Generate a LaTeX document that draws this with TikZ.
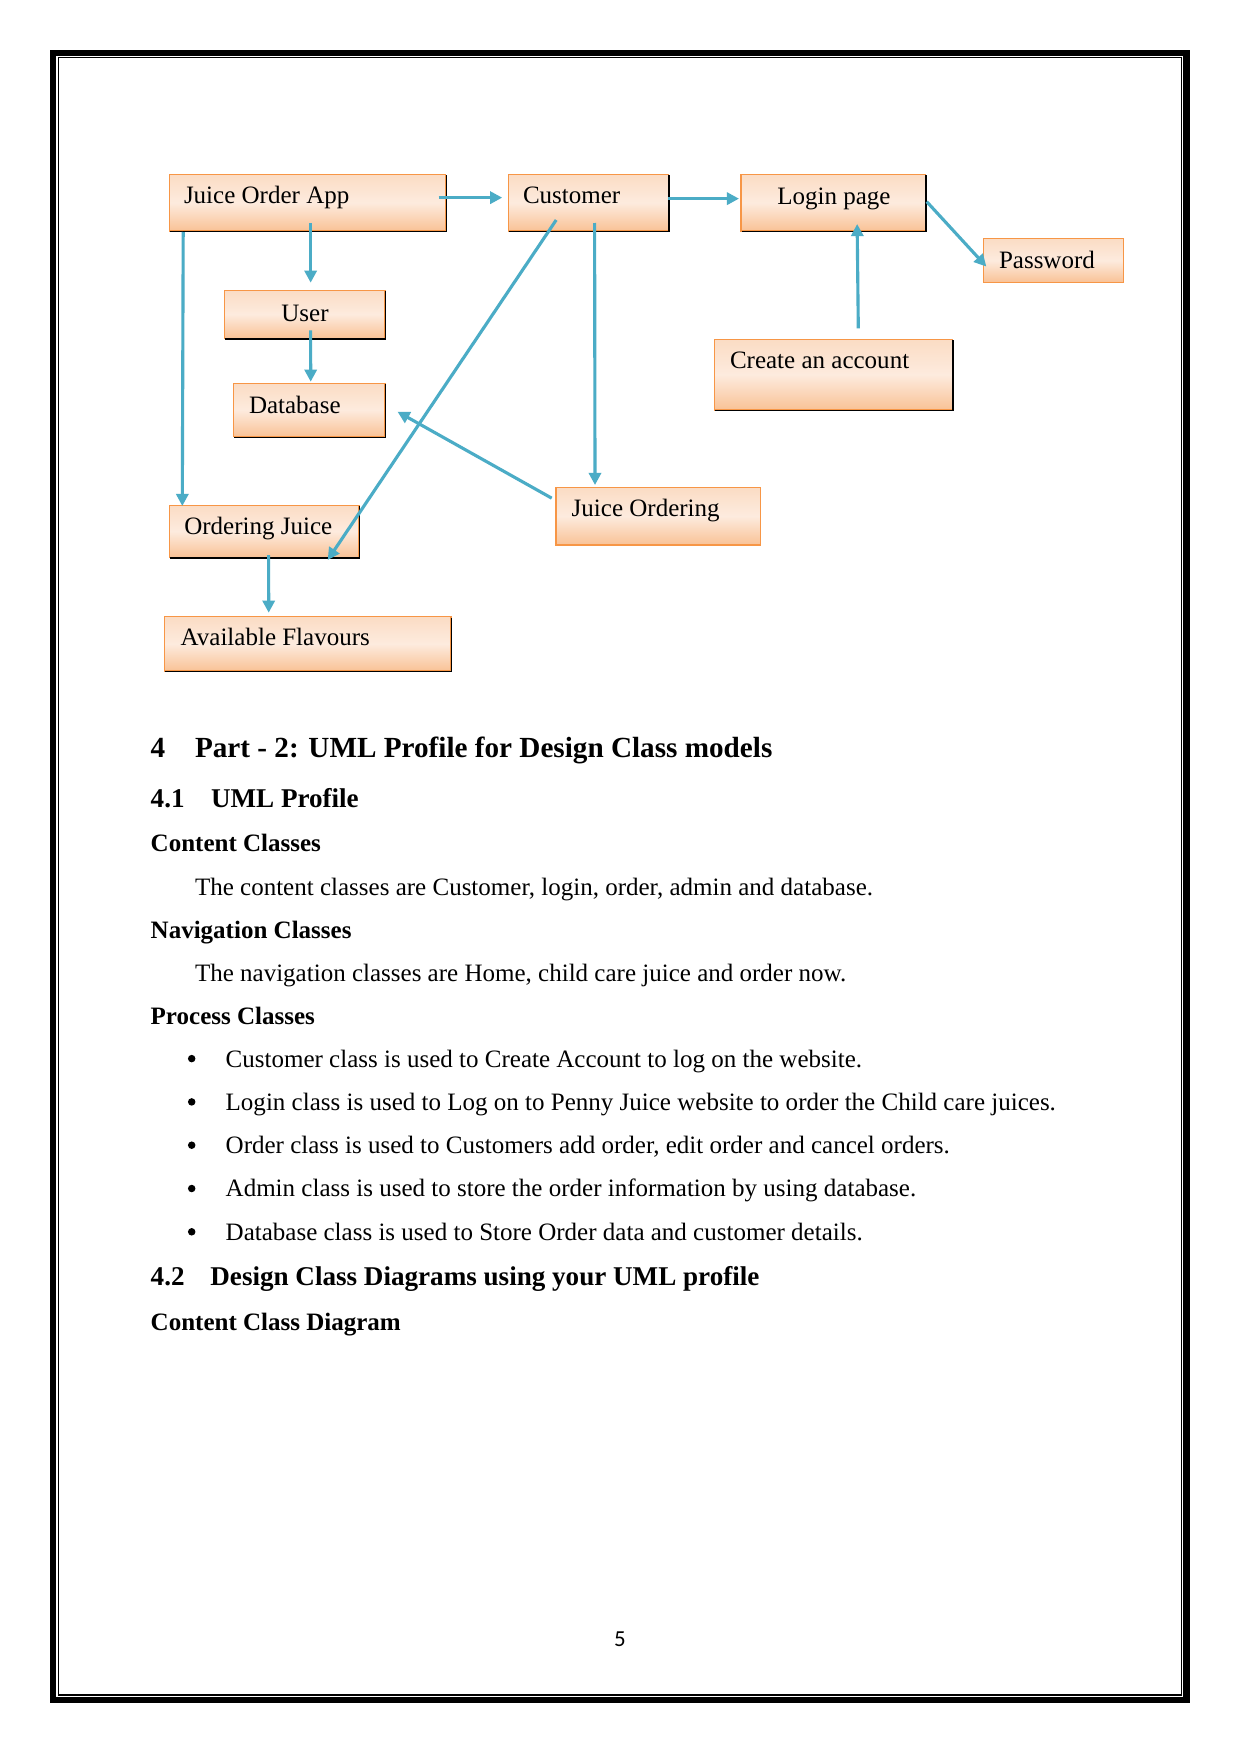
\documentclass[tikz,border=0pt]{standalone}
\usepackage{fontspec}
\setmainfont{Liberation Serif}
\newfontfamily\pagenumfont{Carlito}
\usetikzlibrary{arrows.meta}
\definecolor{arrowblue}{RGB}{75,172,198}
\definecolor{boxedge}{RGB}{247,150,70}
\definecolor{boxtop}{RGB}{251,220,196}
\definecolor{boxmid}{RGB}{253,235,222}
\definecolor{boxbot}{RGB}{249,194,150}
\def\u{0.4797pt}
\newcommand\ubox[5]{%
  \node[box, minimum width={(#4-#2)*\u}, minimum height={(#5-#3)*\u}] (#1) at ({(#2+#4)/2},{(#3+#5)/2}) {};}
\newcommand\ushadow[1]{%
  \draw[black, line width=0.6pt] ([shift={(0.8,0.8)}]#1.south west) -- ([shift={(0.8,0.8)}]#1.south east) -- ([shift={(0.8,0.8)}]#1.north east);}
\begin{document}
\begin{tikzpicture}[x=0.4797pt, y=-0.4797pt,
  box/.style={draw=boxedge, line width=0.6pt, top color=boxtop, bottom color=boxbot, middle color=boxmid, inner sep=0pt, outer sep=0pt},
  conn/.style={draw=arrowblue, line width=1.5pt, -{Triangle[length=5.8pt,width=5.8pt]}},
  lbl/.style={anchor=base west, inner sep=0pt, outer sep=0pt, font=\fontsize{12}{14}\selectfont},
  h1/.style={lbl, font=\fontsize{14}{17}\selectfont\bfseries},
  h2/.style={lbl, font=\fontsize{13}{16}\selectfont\bfseries},
  h3/.style={lbl, font=\fontsize{12}{14}\selectfont\bfseries},
  blt/.style={circle, fill=black, inner sep=0pt, minimum size=3.6pt}]
% page
\fill[white] (0,0) rectangle (1241,1754);
\useasboundingbox (0,0) rectangle (1241,1754);
\draw[black, line width=3.1pt] (53,53) rectangle (1186.7,1700);
\draw[black, line width=0.6pt] (58.5,57.8) rectangle (1181.7,1695);

% boxes
\ubox{joa}{169.6}{174.3}{445.7}{231}
\ubox{cust}{508.2}{174.3}{668.2}{231}
\ubox{login}{741}{174.3}{925.3}{231}
\ubox{pw}{983.3}{238.7}{1123.3}{282.3}
\ubox{user}{224.3}{290.3}{385}{338.3}
\ubox{db}{233.2}{383.3}{385}{436.7}
\ubox{create}{714.3}{339.3}{952.3}{410}
\ubox{jo}{556}{487.3}{760.7}{545}
\ubox{oj}{169.3}{505.3}{359}{557.3}
\ubox{af}{164.3}{616.7}{451}{671}
\ushadow{joa}\ushadow{cust}\ushadow{login}\ushadow{user}\ushadow{db}
\ushadow{create}\ushadow{oj}\ushadow{af}

% box texts
\node[lbl] (joa-t) at (184,203.3) {Juice Order App};
\node[lbl] (cust-t) at (523,203.3) {Customer};
\node[lbl] (login-t) at (777.3,204.3) {Login page};
\node[lbl] (pw-t) at (999,268.3) {Password};
\node[lbl] (user-t) at (281.4,321) {User};
\node[lbl] (db-t) at (249,413.3) {Database};
\node[lbl] (create-t) at (730,368.3) {Create an account};
\node[lbl] (jo-t) at (571.7,516.7) {Juice Ordering};
\node[lbl] (oj-t) at (184.3,534.3) {Ordering Juice};
\node[lbl] (af-t) at (180.7,645) {Available Flavours};

% connectors
\draw[conn] ([shift={(-7,-5)}]joa.east) -- ([shift={(-6,-5)}]cust.west);
\draw[conn] ([shift={(0,-4)}]cust.east) -- ([shift={(-2,-4)}]login.west);
\draw[conn] ([shift={(1.4,-1)}]login.east) -- ([shift={(3,6)}]pw.west);
\draw[conn] ([shift={(25,-11)}]create.north) -- ([shift={(24,-7)}]login.south);
\draw[conn] ([shift={(3,-8)}]joa.south) -- ([shift={(6,-7.6)}]user.north);
\draw[conn] ([shift={(6,-8)}]user.south) -- ([shift={(1.6,-1.6)}]db.north);
\draw[conn] ([shift={(13.6,1)}]joa.south west) -- ([shift={(13,0.7)}]oj.north west);
\draw[conn] ([shift={(-32,-11)}]cust.south) -- ([shift={(-31.3,2.7)}]oj.south east);
\draw[conn] ([shift={(6.4,-8)}]cust.south) -- ([shift={(39,-2.3)}]jo.north west);
\draw[conn] ([shift={(-4.3,-18)}]jo.west) -- ([shift={(12.5,1.7)}]db.east);
\draw[conn] ([shift={(4.5,-2.3)}]oj.south) -- ([shift={(104.4,-4)}]af.north west);

% text
\node[h1] (s4n) at (150.7,757.3) {4};
\node[h1] (s4) at (195,757.3) {Part - 2: UML Profile for Design Class models};
\node[h2] (s41n) at (150.7,807.3) {4.1};
\node[h2] (s41) at (211,807.3) {UML Profile};
\node[h3] (cc) at (150.7,851) {Content Classes};
\node[lbl] (cct) at (195,895) {The content classes are Customer, login, order, admin and database.};
\node[h3] (nc) at (150.7,938.3) {Navigation Classes};
\node[lbl] (nct) at (195,981.5) {The navigation classes are Home, child care juice and order now.};
\node[h3] (pc) at (150.7,1024.4) {Process Classes};
\node[blt] (b1) at (191.7,1058.6) {};
\node[lbl] (p1) at (225.7,1067) {Customer class is used to Create Account to log on the website.};
\node[blt] (b2) at (191.7,1101.9) {};
\node[lbl] (p2) at (225.7,1110.3) {Login class is used to Log on to Penny Juice website to order the Child care juices.};
\node[blt] (b3) at (191.7,1145.2) {};
\node[lbl] (p3) at (225.7,1153.6) {Order class is used to Customers add order, edit order and cancel orders.};
\node[blt] (b4) at (191.7,1188.5) {};
\node[lbl] (p4) at (225.7,1196.9) {Admin class is used to store the order information by using database.};
\node[blt] (b5) at (191.7,1231.8) {};
\node[lbl] (p5) at (225.7,1240.2) {Database class is used to Store Order data and customer details.};
\node[h2] (s42n) at (150.7,1285.5) {4.2};
\node[h2] (s42) at (210.4,1285.5) {Design Class Diagrams using your UML profile};
\node[h3] (ccd) at (150.7,1330) {Content Class Diagram};
\node[anchor=base, inner sep=0pt, font=\pagenumfont\fontsize{11}{13}\selectfont] (pg) at (620,1646) {5};
\end{tikzpicture}
\end{document}
